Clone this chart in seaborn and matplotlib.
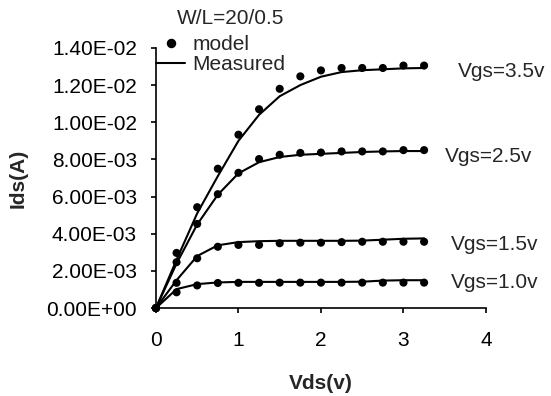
import numpy as np
import pandas as pd
import seaborn as sns
import matplotlib.pyplot as plt
from matplotlib.lines import Line2D
from matplotlib.ticker import FuncFormatter

# drain voltage grid (V)
vds = [0, 0.25, 0.5, 0.75, 1.0, 1.25, 1.5, 1.75, 2.0, 2.25, 2.5, 2.75, 3.0, 3.25]

# model points, Ids in mA
model_35 = [0, 2.97, 5.43, 7.5, 9.33, 10.7, 11.8, 12.47, 12.79, 12.92, 12.92, 12.92, 13.05, 13.05]
model_25 = [0, 2.47, 4.53, 6.13, 7.28, 8.02, 8.25, 8.35, 8.37, 8.43, 8.43, 8.43, 8.5, 8.5]
model_15 = [0, 1.36, 2.68, 3.30, 3.40, 3.40, 3.49, 3.52, 3.52, 3.55, 3.57, 3.57, 3.57, 3.57]
model_10 = [0, 0.85, 1.22, 1.35, 1.36, 1.36, 1.37, 1.37, 1.37, 1.37, 1.37, 1.37, 1.37, 1.37]

# measured curves, Ids in mA
meas_35 = [0, 2.6, 5.1, 7.1, 9.0, 10.4, 11.4, 12.0, 12.45, 12.7, 12.8, 12.85, 12.9, 12.92]
meas_25 = [0, 2.4, 4.5, 6.1, 7.25, 7.85, 8.13, 8.25, 8.3, 8.35, 8.4, 8.43, 8.45, 8.45]
meas_15 = [0, 1.5, 2.8, 3.38, 3.55, 3.6, 3.62, 3.62, 3.62, 3.62, 3.63, 3.68, 3.73, 3.75]
meas_10 = [0, 1.02, 1.29, 1.38, 1.41, 1.41, 1.41, 1.41, 1.41, 1.41, 1.42, 1.48, 1.5, 1.5]

vgs_labels = ["Vgs=3.5v", "Vgs=2.5v", "Vgs=1.5v", "Vgs=1.0v"]

sns.set_style("ticks")
plt.rcParams['font.family'] = ['Liberation Sans', 'DejaVu Sans']
plt.rcParams['font.size'] = 15

model = [model_35, model_25, model_15, model_10]
meas = [meas_35, meas_25, meas_15, meas_10]
df_model = pd.DataFrame({
    'Vds': vds * 4,
    'Ids': np.concatenate(model) * 1e-3,
    'Vgs': np.repeat(vgs_labels, len(vds)),
})
df_meas = pd.DataFrame({
    'Vds': vds * 4,
    'Ids': np.concatenate(meas) * 1e-3,
    'Vgs': np.repeat(vgs_labels, len(vds)),
})

fig = plt.figure(figsize=(5.51, 3.96), dpi=100)
ax = fig.add_axes([0.283, 0.222, 0.599, 0.657])

sns.lineplot(data=df_meas, x='Vds', y='Ids', units='Vgs', estimator=None,
             color='black', lw=1.5, ax=ax, legend=False)
sns.scatterplot(data=df_model, x='Vds', y='Ids', color='black', s=34,
                edgecolor='none', ax=ax, legend=False, clip_on=False, zorder=3)

ax.set_xlim(0, 4)
ax.set_ylim(0, 0.014)
ax.set_xticks(range(5))
ax.set_yticks(np.arange(0, 0.0141, 0.002))
ax.yaxis.set_major_formatter(FuncFormatter(lambda v, p: '%.2E' % v))
ax.tick_params(axis='both', direction='out', length=3.6, width=1.2, color='black',
               labelcolor='black')
ax.tick_params(axis='x', pad=13)
ax.tick_params(axis='y', pad=10)
sns.despine(ax=ax)
for s in ['left', 'bottom']:
    ax.spines[s].set_linewidth(1.2)
    ax.spines[s].set_color('black')

ax.set_xlabel('Vds(v)', fontweight='bold')
ax.set_ylabel('Ids(A)', fontweight='bold')
ax.xaxis.set_label_coords(0.5, -0.255)
ax.yaxis.set_label_coords(-0.39, 0.5)

# curve labels
ax.text(3.66, 0.01274, vgs_labels[0], va='center', ha='left')
ax.text(3.50, 0.00816, vgs_labels[1], va='center', ha='left')
ax.text(3.58, 0.00340, vgs_labels[2], va='center', ha='left')
ax.text(3.58, 0.00135, vgs_labels[3], va='center', ha='left')

fig.text(176.7 / 551, 1 - 18.3 / 396, 'W/L=20/0.5', ha='left', va='center')

handles = [Line2D([], [], marker='o', ls='none', color='black', markersize=5.8),
           Line2D([], [], color='black', lw=1.5)]
ax.legend(handles, ['model', 'Measured'], loc='upper left', bbox_to_anchor=(0, 1.05),
          frameon=False, borderpad=0, borderaxespad=0, handlelength=1.4,
          handletextpad=0.35, labelspacing=0.05)

fig.savefig('out.png', dpi=100)
